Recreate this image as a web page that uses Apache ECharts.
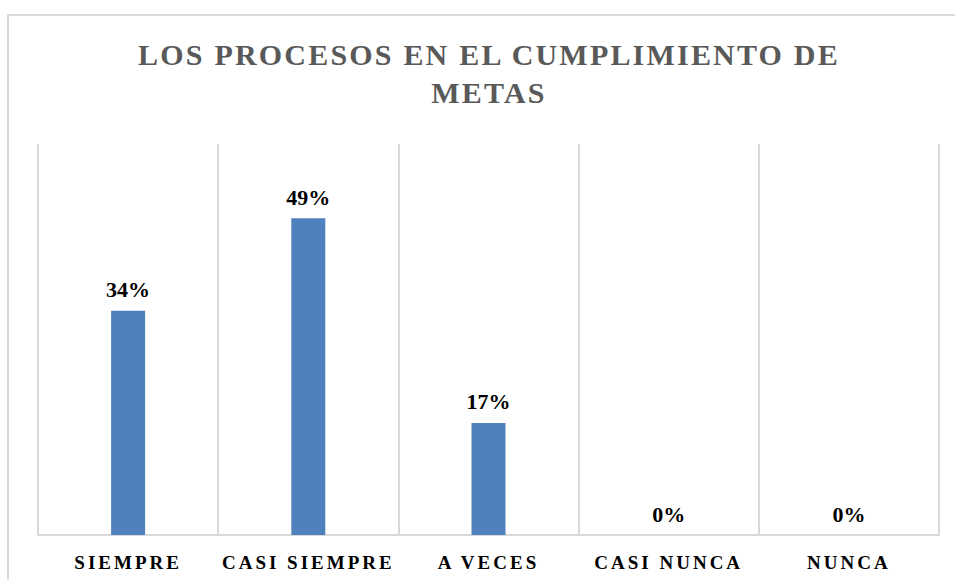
<!DOCTYPE html>
<html>
<head>
<meta charset="utf-8">
<script src="https://cdn.jsdelivr.net/npm/echarts@6/dist/echarts.min.js"></script>
<style>
  html, body { margin: 0; padding: 0; background: #fff; }
  #chart { width: 955px; height: 580px; }
</style>
</head>
<body>
<div id="chart"></div>
<script>
const titleText = 'LOS PROCESOS EN EL CUMPLIMIENTO DE\nMETAS'
const categories = ['SIEMPRE', 'CASI SIEMPRE', 'A VECES', 'CASI NUNCA', 'NUNCA']
const percentages = [34.4, 48.6, 17.2, 0, 0]

const serif = '"Liberation Serif", "DejaVu Serif", serif'
const gridColor = '#d9d9d9'

const dom = document.getElementById('chart')
const chart = echarts.init(dom, null, { renderer: 'svg' })

chart.setOption({
  animation: false,
  title: {
    text: titleText,
    left: 484,
    top: 30,
    textAlign: 'center',
    textStyle: {
      fontFamily: serif,
      fontWeight: 'bold',
      fontSize: 30,
      lineHeight: 38,
      color: '#595959'
    }
  },
  graphic: [{
    type: 'rect',
    silent: true,
    shape: { x: 8, y: 15, width: 1000, height: 620 },
    style: { fill: 'none', stroke: gridColor, lineWidth: 2 }
  }],
  grid: { left: 38, right: 16, top: 144, bottom: 45 },
  xAxis: {
    type: 'category',
    data: categories,
    axisTick: { show: false },
    axisLine: { lineStyle: { color: gridColor, width: 2 } },
    splitLine: { show: true, lineStyle: { color: gridColor, width: 2 } },
    axisLabel: {
      margin: 18,
      fontFamily: serif,
      fontWeight: 'bold',
      fontSize: 19,
      color: '#000'
    }
  },
  yAxis: {
    type: 'value',
    min: 0,
    max: 60,
    show: false
  },
  series: [{
    type: 'bar',
    silent: true,
    data: percentages,
    barWidth: 34,
    itemStyle: { color: '#4F81BD' },
    label: {
      show: true,
      position: 'top',
      distance: 10,
      fontFamily: serif,
      fontWeight: 'bold',
      fontSize: 22,
      color: '#000',
      formatter: (p) => Math.round(p.value) + '%'
    }
  }]
})

// ECharts has no letter spacing option, so add it to the svg text afterwards
const titleLines = titleText.split('\n')
function spaceText() {
  dom.querySelectorAll('text').forEach((t) => {
    const s = t.textContent
    if (titleLines.includes(s)) t.style.letterSpacing = '2.2px'
    else if (categories.includes(s)) t.style.letterSpacing = '3px'
  })
}
spaceText()
chart.on('finished', spaceText)
</script>
</body>
</html>
